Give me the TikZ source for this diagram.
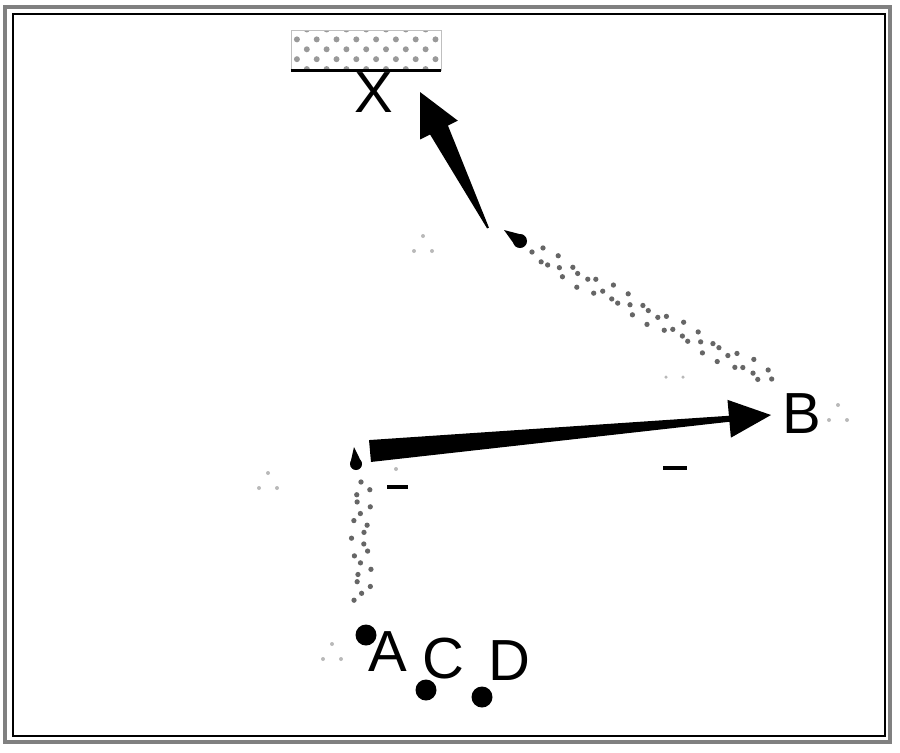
\documentclass[tikz,border=0pt]{standalone}
\usepackage{fontspec}
\setmainfont{Liberation Sans}
\usetikzlibrary{calc,patterns.meta,decorations.pathmorphing}
\tikzset{
    LB/.style ={font=\fontsize{33}{36}\selectfont, inner sep=0pt},
    PT/.style ={circle, fill=black, minimum size=0.42cm, inner sep=0pt},
    SP/.style ={gray!80!black, line width=3pt, line cap=round, dash pattern=on 0pt off 8pt, decorate, decoration={snake, amplitude=0.2cm, segment length=0.4cm}},
    FT/.style ={gray!55},
    CEIL/.style ={rectangle, minimum width=3cm, minimum height=0.8cm, draw=gray!50, pattern={Dots[distance=0.28cm,angle=45,radius=0.06cm]}, pattern color=gray!80}}

% tail, tip, tail half width, shaft half width, head length, head half width
\newcommand{\taper}[6]{%
  \path ($(#2)!#5!(#1)$) coordinate (hb);
  \fill ($(#1)!#3!90:(#2)$) -- ($(hb)!#4!90:(#2)$) -- ($(hb)!#6!90:(#2)$) -- (#2)
     -- ($(hb)!#6!-90:(#2)$) -- ($(hb)!#4!-90:(#2)$) -- ($(#1)!#3!-90:(#2)$) -- cycle;}
% round end, pointed end, radius
\newcommand{\tear}[3]{%
  \fill (#1) circle (#3);
  \fill ($(#1)!#3!90:(#2)$) -- (#2) -- ($(#1)!#3!-90:(#2)$) -- cycle;}

\begin{document}
\begin{tikzpicture}[x=0.02cm,y=-0.02cm]
    \useasboundingbox (0,0) rectangle (900,752);
    \draw[gray, line width=2pt] (5,7) rectangle (890,742);
    \draw[line width=0.6pt] (13,14) rectangle (885,736);
    % ceiling and mass
    \node[CEIL] (ceil) at (366,50) {};
    \draw[line width=2pt] (ceil.south west) -- (ceil.south east);
    \node[LB] (X) at (374,93) {X};
    % points
    \node[PT] (A) at (366,635) {};
    \node[PT] (C) at (426,690) {};
    \node[PT] (D) at (482,697) {};
    \node[LB] (lA) at (388,652) {A};
    \node[LB] (lC) at (443,659) {C};
    \node[LB] (lD) at (509,661) {D};
    \node[LB] (lB) at (802,414) {B};
    % arrows
    \coordinate (xt) at (488,228);
    \coordinate (xh) at (420,92);
    \coordinate (bt) at (370,451);
    \coordinate (bh) at (771,415);
    \taper{xt}{xh}{0.02cm}{0.2cm}{0.85cm}{0.42cm}
    \taper{bt}{bh}{0.22cm}{0.06cm}{0.84cm}{0.38cm}
    \coordinate (d1) at (520,241);
    \coordinate (d1t) at (504,230);
    \coordinate (d2) at (356,464);
    \coordinate (d2t) at (354,447);
    \tear{d1}{d1t}{0.14cm}
    \tear{d2}{d2t}{0.12cm}
    % springs
    \coordinate (s1a) at (532,252);
    \coordinate (s1b) at (775,382);
    \coordinate (s2a) at (361,482);
    \coordinate (s2b) at (362,608);
    \draw[SP] (s1a) -- (s1b);
    \draw[SP] (s2a) -- (s2b);
    % faint marks
    \foreach \x/\y in {423/244, 268/481, 838/413, 332/652}
        \fill[FT] (\x,\y-8) circle (0.04cm) (\x-9,\y+7) circle (0.04cm) (\x+9,\y+7) circle (0.04cm);
    \fill[FT] (666,377) circle (0.035cm) (683,377) circle (0.035cm);
    \fill[FT] (396,469) circle (0.04cm);
    \draw[line width=1.8pt] (387,487) -- (408,487);
    \draw[line width=1.8pt] (663,468) -- (687,468);
\end{tikzpicture}
\end{document}
